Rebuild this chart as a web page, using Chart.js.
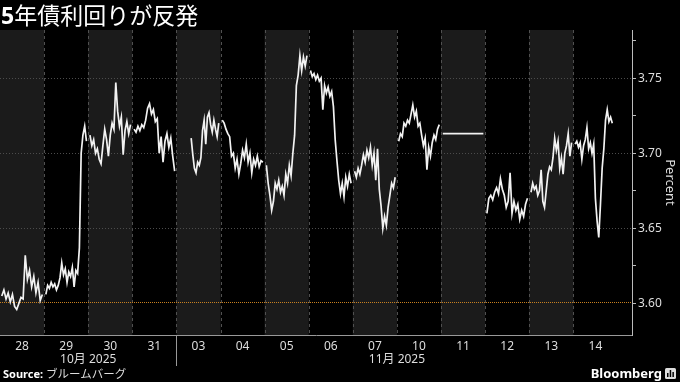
<!DOCTYPE html>
<html>
<head>
<meta charset="utf-8">
<script src="https://cdn.jsdelivr.net/npm/chart.js@4.4.0/dist/chart.umd.min.js"></script>
<style>
  html, body { margin: 0; padding: 0; background: #000; }
  #wrap { position: relative; width: 680px; height: 382px; overflow: hidden; color: #fff;
          font-family: "Noto Sans", "Noto Sans CJK JP", sans-serif; }
  #chart { position: absolute; left: 0; top: 0; }
  #title { position: absolute; left: 1px; top: -1px; font-size: 23px; line-height: 30px;
           font-family: "Noto Sans CJK JP", sans-serif; font-weight: 400; white-space: nowrap; }
  #title b { font-family: "Noto Sans", sans-serif; font-weight: 700; }
  #source { position: absolute; left: 3px; top: 365px; font-size: 11px; line-height: 16px; color: #ddd; white-space: nowrap; }
  #source b { color: #fff; }
  #source span { font-family: "Noto Sans CJK JP", sans-serif; font-size: 11.5px; }
  #brand { position: absolute; right: 4px; top: 364px; font-size: 13px; line-height: 18px; font-weight: 700; white-space: nowrap; }
  #brand svg { vertical-align: -1px; margin-left: 3px; }
</style>
</head>
<body>
<div id="wrap">
  <canvas id="chart" width="680" height="382"></canvas>
  <div id="title"><b>5</b>年債利回りが反発</div>
  <div id="source"><b>Source:</b> <span>ブルームバーグ</span></div>
  <div id="brand">Bloomberg<svg width="11" height="11" viewBox="0 0 11 11"><rect x="0" y="0" width="11" height="11" rx="1.5" fill="#ddd"/><rect x="2" y="5" width="1.5" height="4" fill="#000"/><rect x="4.7" y="2" width="1.5" height="7" fill="#000"/><rect x="7.4" y="4" width="1.5" height="5" fill="#000"/></svg></div>
</div>
<script>
// trading days on the x axis
const dayLabels = ['28', '29', '30', '31', '03', '04', '05', '06', '07', '10', '11', '12', '13', '14'];
const monthLabels = ['10月 2025', '11月 2025'];
const monthStartDay = [0, 4]; // index into dayLabels where each month begins

// y axis ticks (percent)
const yTicks = [3.60, 3.625, 3.65, 3.675, 3.70, 3.725, 3.75, 3.775];
const yMin = 3.579;
const yMax = 3.782;
const refLevel = 3.60; // orange dotted line

// intraday 5y yield, one array per day (null = no trading yet)
const oct28 = [3.605, 3.609, 3.603, 3.607, 3.601, 3.606, 3.598, 3.596, 3.600, 3.604, 3.603, 3.632, 3.616, 3.622, 3.611, 3.618, 3.607, 3.614, 3.602, 3.606];
const oct29 = [3.606, 3.612, 3.610, 3.614, 3.611, 3.613, 3.609, 3.612, 3.617, 3.627, 3.619, 3.623, 3.614, 3.621, 3.618, 3.624, 3.611, 3.622, 3.620, 3.637, 3.700, 3.712, 3.718, 3.708];
const oct30 = [3.712, 3.705, 3.709, 3.700, 3.703, 3.696, 3.693, 3.705, 3.716, 3.709, 3.698, 3.712, 3.720, 3.716, 3.747, 3.728, 3.718, 3.724, 3.699, 3.715, 3.721, 3.713, 3.719];
const oct31 = [3.716, 3.714, 3.718, 3.715, 3.719, 3.717, 3.722, 3.730, 3.733, 3.726, 3.729, 3.721, 3.723, 3.700, 3.711, 3.694, 3.708, 3.713, 3.704, 3.710, 3.698, 3.688];
const nov03 = [null, null, null, null, null, null, null, null, 3.710, 3.699, 3.690, 3.687, 3.694, 3.692, 3.697, 3.715, 3.722, 3.706, 3.724, 3.727, 3.719, 3.714, 3.722, 3.716, 3.711, 3.720];
const nov04 = [3.722, 3.720, 3.716, 3.713, 3.711, 3.698, 3.700, 3.690, 3.696, 3.686, 3.693, 3.702, 3.697, 3.706, 3.694, 3.700, 3.687, 3.696, 3.692, 3.698, 3.691, 3.695, 3.694];
const nov05 = [3.692, 3.680, 3.672, 3.662, 3.668, 3.680, 3.676, 3.682, 3.674, 3.678, 3.672, 3.686, 3.680, 3.692, 3.685, 3.700, 3.712, 3.745, 3.752, 3.765, 3.755, 3.764, 3.758, 3.765];
const nov06 = [3.755, 3.751, 3.753, 3.749, 3.752, 3.748, 3.750, 3.729, 3.745, 3.740, 3.744, 3.738, 3.741, 3.731, 3.709, 3.695, 3.682, 3.673, 3.680, 3.671, 3.684, 3.678, 3.686, 3.680];
const nov07 = [3.688, 3.684, 3.690, 3.686, 3.692, 3.699, 3.694, 3.702, 3.697, 3.704, 3.692, 3.700, 3.682, 3.703, 3.676, 3.665, 3.650, 3.658, 3.652, 3.664, 3.672, 3.680, 3.677, 3.684];
const nov10 = [3.708, 3.713, 3.711, 3.720, 3.718, 3.722, 3.720, 3.726, 3.732, 3.724, 3.728, 3.718, 3.720, 3.712, 3.705, 3.710, 3.689, 3.704, 3.698, 3.707, 3.712, 3.709, 3.716, 3.719];
const nov11 = [3.713, 3.713];
const nov12 = [3.660, 3.670, 3.672, 3.669, 3.674, 3.677, 3.673, 3.683, 3.676, 3.672, 3.664, 3.668, 3.687, 3.660, 3.668, 3.662, 3.666, 3.656, 3.662, 3.658, 3.666, 3.670];
const nov13 = [3.674, 3.680, 3.676, 3.678, 3.672, 3.675, 3.689, 3.668, 3.664, 3.675, 3.686, 3.691, 3.689, 3.697, 3.710, 3.702, 3.708, 3.690, 3.697, 3.686, 3.700, 3.705, 3.713, 3.698, 3.707];
const nov14 = [3.706, 3.708, 3.704, 3.707, 3.696, 3.705, 3.709, 3.717, 3.703, 3.707, 3.700, 3.706, 3.670, 3.655, 3.644, 3.666, 3.690, 3.703, 3.722, 3.729, 3.721, 3.724, 3.720, null, null];

const days = [oct28, oct29, oct30, oct31, nov03, nov04, nov05, nov06, nov07, nov10, nov11, nov12, nov13, nov14];
const xMax = 14.33;

// spread each day's readings over its slot on the x axis, break the line between days
const points = [];
days.forEach((vals, d) => {
  const n = vals.length;
  vals.forEach((v, k) => points.push({ x: d + 0.04 + 0.92 * k / (n - 1), y: v }));
  points.push({ x: d + 0.995, y: null });
});

const monthCenters = monthStartDay.map((s, i) => (s + (monthStartDay[i + 1] ?? dayLabels.length)) / 2);

const isMajor = v => Math.abs(v * 20 - Math.round(v * 20)) < 1e-6;

const backdrop = {
  id: 'backdrop',
  beforeDraw(chart) {
    const { ctx, chartArea: a, scales: { x } } = chart;
    ctx.save();
    ctx.fillStyle = '#1b1b1b';
    dayLabels.forEach((_, i) => {
      if (i % 2) return;
      const x0 = x.getPixelForValue(i);
      const x1 = x.getPixelForValue(i + 1);
      ctx.fillRect(x0, a.top, x1 - x0, a.bottom - a.top);
    });
    ctx.strokeStyle = '#505050';
    ctx.lineWidth = 1;
    ctx.setLineDash([3, 3]);
    for (let i = 1; i < dayLabels.length; i++) {
      const px = Math.round(x.getPixelForValue(i)) + 0.5;
      ctx.beginPath();
      ctx.moveTo(px, a.top);
      ctx.lineTo(px, a.bottom);
      ctx.stroke();
    }
    ctx.restore();
  },
  beforeDatasetsDraw(chart) {
    const { ctx, chartArea: a, scales: { y } } = chart;
    ctx.save();
    ctx.lineWidth = 1;
    yTicks.filter(isMajor).forEach(v => {
      const py = Math.round(y.getPixelForValue(v)) + 0.5;
      const ref = Math.abs(v - refLevel) < 1e-6;
      ctx.strokeStyle = ref ? '#c8801f' : '#4c4c4c';
      ctx.setLineDash(ref ? [1, 1] : [1, 2]);
      ctx.beginPath();
      ctx.moveTo(a.left, ref ? py - 1 : py);
      ctx.lineTo(a.right, ref ? py - 1 : py);
      ctx.stroke();
    });
    ctx.restore();
  },
  afterDraw(chart) {
    const { ctx, chartArea: a, scales: { x } } = chart;
    ctx.save();
    ctx.strokeStyle = '#999';
    ctx.lineWidth = 1;
    monthStartDay.slice(1).forEach(d => {
      const px = Math.round(x.getPixelForValue(d)) + 0.5;
      ctx.beginPath();
      ctx.moveTo(px, a.bottom);
      ctx.lineTo(px, a.bottom + 31);
      ctx.stroke();
    });
    ctx.restore();
  }
};

new Chart(document.getElementById('chart'), {
  type: 'line',
  data: {
    datasets: [{
      data: points,
      borderColor: '#f2f2f2',
      borderWidth: 1.7,
      pointRadius: 0,
      tension: 0,
      spanGaps: false
    }]
  },
  options: {
    responsive: false,
    animation: false,
    layout: { padding: { top: 30, bottom: 17, left: 0, right: 0 } },
    plugins: { legend: { display: false }, tooltip: { enabled: false } },
    scales: {
      x: {
        type: 'linear',
        min: 0,
        max: xMax,
        afterBuildTicks: s => { s.ticks = dayLabels.map((_, i) => ({ value: i + 0.5 })); },
        afterFit: s => { s.height = 16; },
        ticks: {
          autoSkip: false, maxRotation: 0, padding: 4,
          color: '#dddddd', font: { size: 12, family: '"Noto Sans", sans-serif' },
          callback: (v, i) => dayLabels[i]
        },
        grid: { display: false, drawTicks: false },
        border: { display: true, color: '#999999', width: 1 }
      },
      x2: {
        axis: 'x',
        type: 'linear',
        position: 'bottom',
        weight: 1,
        min: 0,
        max: xMax,
        afterBuildTicks: s => { s.ticks = monthCenters.map(c => ({ value: c })); },
        afterFit: s => { s.height = 14; },
        ticks: {
          autoSkip: false, maxRotation: 0, padding: 1,
          color: '#dddddd', font: { size: 12, family: '"Noto Sans", "Noto Sans CJK JP", sans-serif' },
          callback: (v, i) => monthLabels[i]
        },
        grid: { display: false, drawTicks: false },
        border: { display: false }
      },
      y: {
        position: 'right',
        min: yMin,
        max: yMax,
        afterBuildTicks: s => { s.ticks = yTicks.map(v => ({ value: v })); },
        afterFit: s => { s.width = 48; },
        ticks: {
          padding: 2,
          color: '#dddddd', font: { size: 12, family: '"Noto Sans", sans-serif' },
          callback: v => isMajor(v) ? v.toFixed(2) : ''
        },
        grid: {
          drawOnChartArea: false,
          tickLength: 4,
          tickColor: '#bbbbbb'
        },
        border: { display: true, color: '#bbbbbb', width: 1 },
        title: {
          display: true, text: 'Percent', color: '#dddddd',
          font: { size: 13, family: '"Noto Sans", sans-serif' },
          padding: { top: 2, bottom: 0 }
        }
      }
    }
  },
  plugins: [backdrop]
});
</script>
</body>
</html>
